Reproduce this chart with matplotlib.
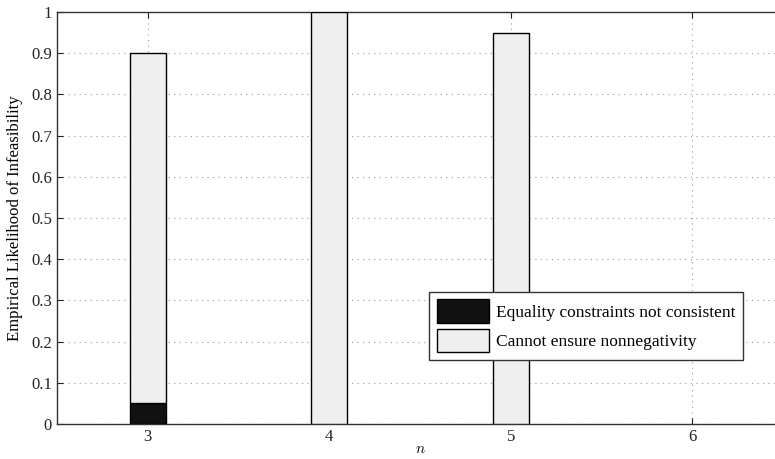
import numpy as np
import matplotlib.pyplot as plt

# data
n_values = [3, 4, 5, 6]
not_consistent = [0.05, 0.0, 0.0, 0.0]
no_nonneg = [0.85, 1.0, 0.95, 0.0]
labels = ['Equality constraints not consistent', 'Cannot ensure nonnegativity']

plt.rcParams['font.family'] = ['Liberation Serif', 'DejaVu Serif']
plt.rcParams['mathtext.fontset'] = 'cm'

fig = plt.figure(figsize=(7.75, 4.59), dpi=100)
ax = fig.add_axes([0.0735, 0.0763, 0.937, 0.8976])

x = np.array(n_values)
bot = np.array(not_consistent)
top = np.array(no_nonneg)
m1 = bot > 0
m2 = top > 0
ax.bar(x[m1], bot[m1], width=0.2, color='#111111', edgecolor='black',
       linewidth=1.0, label=labels[0], zorder=3)
ax.bar(x[m2], top[m2], width=0.2, bottom=bot[m2], color='#efefef',
       edgecolor='black', linewidth=1.0, label=labels[1], zorder=3)

ax.set_xlim(2.5, 6.5)
ax.set_ylim(0, 1)
ax.set_xticks(n_values)
ax.set_yticks(np.arange(0, 1.01, 0.1))
ax.set_yticklabels(['0', '0.1', '0.2', '0.3', '0.4', '0.5', '0.6', '0.7', '0.8', '0.9', '1'])
ax.tick_params(direction='in', labelsize=12, length=4, top=True, right=True,
               colors='#222222')
ax.grid(True, linestyle=(0, (1, 4)), color='#999999', linewidth=0.8, zorder=0)
for s in ax.spines.values():
    s.set_color('#333333')
    s.set_linewidth(1.0)

ax.set_xlabel('$n$', fontsize=11, labelpad=-1)
ax.set_ylabel('Empirical Likelihood of Infeasibility', fontsize=12, labelpad=6)

leg = ax.legend(loc='lower right', bbox_to_anchor=(0.945, 0.155), fontsize=12.5,
                fancybox=False, framealpha=1, edgecolor='#333333',
                handlelength=3.0, handleheight=1.7, borderpad=0.45,
                labelspacing=0.35, handletextpad=0.4, borderaxespad=0)
leg.get_frame().set_linewidth(1.0)

fig.savefig('out.png', dpi=100)
